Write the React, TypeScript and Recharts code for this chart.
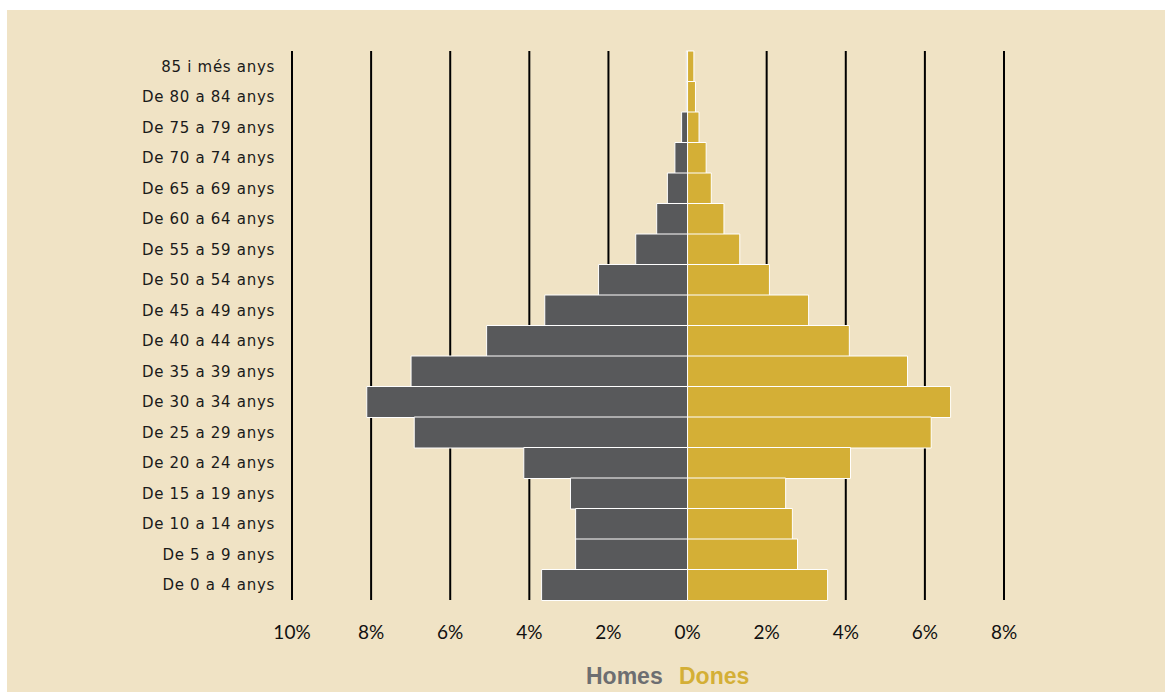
import React from "react";
import { BarChart, Bar, XAxis, YAxis, CartesianGrid } from "recharts";

const ageGroups = [
  "85 i més anys",
  "De 80 a 84 anys",
  "De 75 a 79 anys",
  "De 70 a 74 anys",
  "De 65 a 69 anys",
  "De 60 a 64 anys",
  "De 55 a 59 anys",
  "De 50 a 54 anys",
  "De 45 a 49 anys",
  "De 40 a 44 anys",
  "De 35 a 39 anys",
  "De 30 a 34 anys",
  "De 25 a 29 anys",
  "De 20 a 24 anys",
  "De 15 a 19 anys",
  "De 10 a 14 anys",
  "De 5 a 9 anys",
  "De 0 a 4 anys",
];

// percentage of population (men shown to the left)
const homes = [0.03, 0.03, 0.15, 0.32, 0.51, 0.78, 1.31, 2.25, 3.61, 5.08, 6.99, 8.11, 6.91, 4.14, 2.96, 2.83, 2.83, 3.69];
const dones = [0.16, 0.2, 0.29, 0.47, 0.6, 0.92, 1.32, 2.07, 3.06, 4.09, 5.56, 6.65, 6.16, 4.12, 2.48, 2.65, 2.78, 3.54];

const xTicks = [-10, -8, -6, -4, -2, 0, 2, 4, 6, 8];

const data = ageGroups.map((age, i) => ({ age, homes: -homes[i], dones: dones[i] }));

const BG = "#f0e3c5";
const MEN = "#58595b";
const WOMEN = "#d4af36";

export default function App() {
  return (
    <div style={{ position: "absolute", left: 0, top: 0, width: 1165, height: 692, background: "#fff", overflow: "hidden" }}>
      <div style={{ position: "absolute", left: 7, top: 10, width: 1158, height: 682, background: BG }}>
        <BarChart
          width={1158}
          height={682}
          data={data}
          layout="vertical"
          stackOffset="sign"
          barCategoryGap={0}
          margin={{ top: 41, right: 161, bottom: 32, left: 0 }}
        >
          <CartesianGrid horizontal={false} stroke="#000" strokeWidth={2} />
          <XAxis
            type="number"
            domain={[-10, 8]}
            ticks={xTicks}
            interval={0}
            axisLine={false}
            tickLine={false}
            tickSize={0}
            tickMargin={26}
            height={60}
            tickFormatter={(v: number) => `${Math.abs(v)}%`}
            tick={{ fill: "#111", fontSize: 19, fontFamily: "Lato, sans-serif" }}
          />
          <YAxis
            type="category"
            dataKey="age"
            width={285}
            axisLine={false}
            tickLine={false}
            tickSize={0}
            tickMargin={17}
            interval={0}
            tick={{ fill: "#1a1a1a", fontSize: 15, letterSpacing: 0.7, fontFamily: "'DejaVu Sans', sans-serif" }}
          />
          <Bar dataKey="homes" stackId="a" fill={MEN} stroke="#fff" strokeWidth={1} isAnimationActive={false} />
          <Bar dataKey="dones" stackId="a" fill={WOMEN} stroke="#fff" strokeWidth={1} isAnimationActive={false} />
        </BarChart>
        <div
          style={{
            position: "absolute",
            left: 0,
            width: 1158,
            top: 652,
            fontFamily: "'Liberation Sans Narrow', 'Liberation Sans', sans-serif",
            fontWeight: "bold",
            fontSize: 23,
            lineHeight: "28px",
          }}
        >
          <span style={{ position: "absolute", left: 579, color: "#6d6e71" }}>Homes</span>
          <span style={{ position: "absolute", left: 672, color: WOMEN }}>Dones</span>
        </div>
      </div>
    </div>
  );
}
